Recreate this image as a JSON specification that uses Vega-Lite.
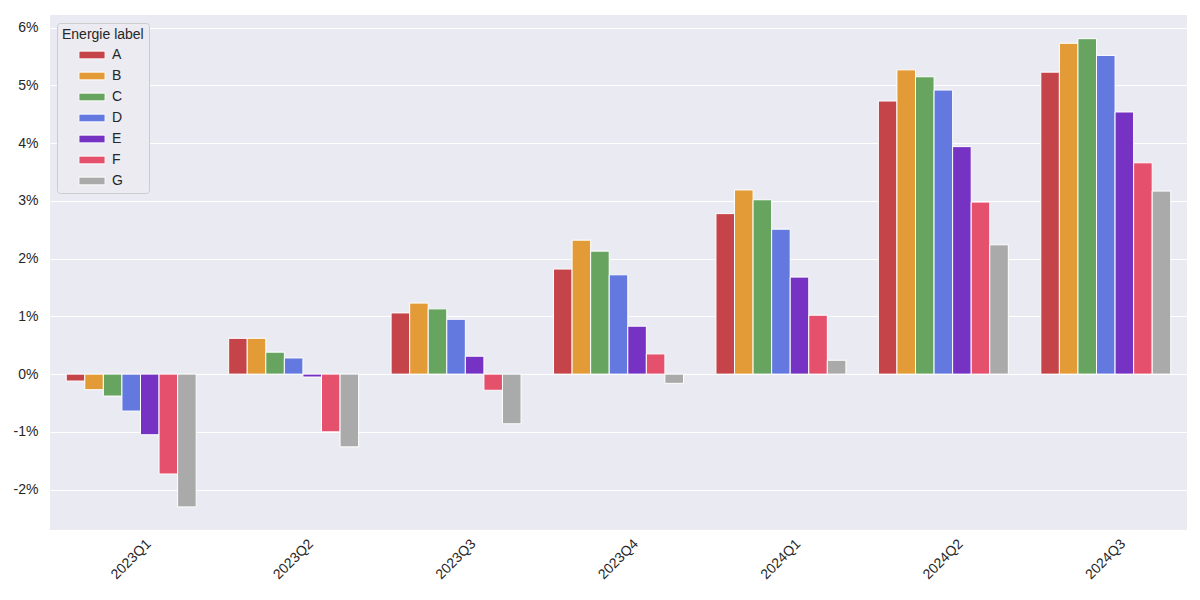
{
  "$schema": "https://vega.github.io/schema/vega-lite/v6.json",
  "autosize": {"type": "none"},
  "padding": {"left": 50, "top": 15, "right": 13, "bottom": 70},
  "width": 1137,
  "height": 515,
  "background": "white",
  "data": {
    "values": [
      {"q": "2023Q1", "l": "A", "v": -0.12}, {"q": "2023Q1", "l": "B", "v": -0.27}, {"q": "2023Q1", "l": "C", "v": -0.38}, {"q": "2023Q1", "l": "D", "v": -0.64}, {"q": "2023Q1", "l": "E", "v": -1.05}, {"q": "2023Q1", "l": "F", "v": -1.73}, {"q": "2023Q1", "l": "G", "v": -2.30},
      {"q": "2023Q2", "l": "A", "v": 0.62}, {"q": "2023Q2", "l": "B", "v": 0.62}, {"q": "2023Q2", "l": "C", "v": 0.38}, {"q": "2023Q2", "l": "D", "v": 0.28}, {"q": "2023Q2", "l": "E", "v": -0.05}, {"q": "2023Q2", "l": "F", "v": -1.00}, {"q": "2023Q2", "l": "G", "v": -1.26},
      {"q": "2023Q3", "l": "A", "v": 1.06}, {"q": "2023Q3", "l": "B", "v": 1.23}, {"q": "2023Q3", "l": "C", "v": 1.13}, {"q": "2023Q3", "l": "D", "v": 0.95}, {"q": "2023Q3", "l": "E", "v": 0.31}, {"q": "2023Q3", "l": "F", "v": -0.28}, {"q": "2023Q3", "l": "G", "v": -0.86},
      {"q": "2023Q4", "l": "A", "v": 1.82}, {"q": "2023Q4", "l": "B", "v": 2.32}, {"q": "2023Q4", "l": "C", "v": 2.13}, {"q": "2023Q4", "l": "D", "v": 1.72}, {"q": "2023Q4", "l": "E", "v": 0.83}, {"q": "2023Q4", "l": "F", "v": 0.35}, {"q": "2023Q4", "l": "G", "v": -0.16},
      {"q": "2024Q1", "l": "A", "v": 2.78}, {"q": "2024Q1", "l": "B", "v": 3.19}, {"q": "2024Q1", "l": "C", "v": 3.02}, {"q": "2024Q1", "l": "D", "v": 2.51}, {"q": "2024Q1", "l": "E", "v": 1.68}, {"q": "2024Q1", "l": "F", "v": 1.02}, {"q": "2024Q1", "l": "G", "v": 0.24},
      {"q": "2024Q2", "l": "A", "v": 4.73}, {"q": "2024Q2", "l": "B", "v": 5.27}, {"q": "2024Q2", "l": "C", "v": 5.15}, {"q": "2024Q2", "l": "D", "v": 4.92}, {"q": "2024Q2", "l": "E", "v": 3.94}, {"q": "2024Q2", "l": "F", "v": 2.98}, {"q": "2024Q2", "l": "G", "v": 2.24},
      {"q": "2024Q3", "l": "A", "v": 5.23}, {"q": "2024Q3", "l": "B", "v": 5.73}, {"q": "2024Q3", "l": "C", "v": 5.81}, {"q": "2024Q3", "l": "D", "v": 5.52}, {"q": "2024Q3", "l": "E", "v": 4.54}, {"q": "2024Q3", "l": "F", "v": 3.66}, {"q": "2024Q3", "l": "G", "v": 3.17}
    ]
  },
  "mark": {"type": "bar", "stroke": "white", "strokeWidth": 1},
  "encoding": {
    "x": {
      "field": "q",
      "type": "nominal",
      "title": null,
      "scale": {"paddingInner": 0.2, "paddingOuter": 0.1},
      "axis": {
        "labelAngle": -45,
        "labelAlign": "center",
        "labelBaseline": "middle",
        "labelPadding": 29,
        "ticks": false,
        "domain": false,
        "grid": false
      }
    },
    "xOffset": {
      "field": "l",
      "type": "nominal",
      "scale": {"paddingInner": 0, "paddingOuter": 0}
    },
    "y": {
      "field": "v",
      "type": "quantitative",
      "title": null,
      "scale": {"domain": [-2.7, 6.22], "nice": false, "zero": false},
      "axis": {
        "values": [-2, -1, 0, 1, 2, 3, 4, 5, 6],
        "labelExpr": "datum.value + '%'",
        "ticks": false,
        "domain": false,
        "labelPadding": 12
      }
    },
    "color": {
      "field": "l",
      "type": "nominal",
      "title": "Energie label",
      "scale": {
        "domain": ["A", "B", "C", "D", "E", "F", "G"],
        "range": ["#c5444a", "#e39b37", "#66a460", "#6379e0", "#7632c2", "#e5516c", "#aaaaaa"]
      },
      "legend": {
        "orient": "none",
        "legendX": 7,
        "legendY": 8,
        "symbolType": "M-1.85,-0.55H1.85V0.55H-1.85Z",
        "symbolSize": 200,
        "symbolStrokeColor": "white",
        "symbolStrokeWidth": 1,
        "symbolOpacity": 1,
        "symbolOffset": 22,
        "labelOffset": 12,
        "rowPadding": 6,
        "padding": 5,
        "fillColor": "#ebebf1",
        "strokeColor": "#cccccc",
        "cornerRadius": 3
      }
    }
  },
  "config": {
    "font": "Liberation Sans",
    "view": {"fill": "#eaeaf2", "stroke": null},
    "axis": {
      "labelFontSize": 14,
      "labelColor": "#262626",
      "gridColor": "white",
      "gridWidth": 1,
      "gridOpacity": 1
    },
    "legend": {
      "titleFontSize": 14,
      "titleFontWeight": "normal",
      "titleColor": "#262626",
      "labelFontSize": 14,
      "labelColor": "#262626"
    }
  }
}
